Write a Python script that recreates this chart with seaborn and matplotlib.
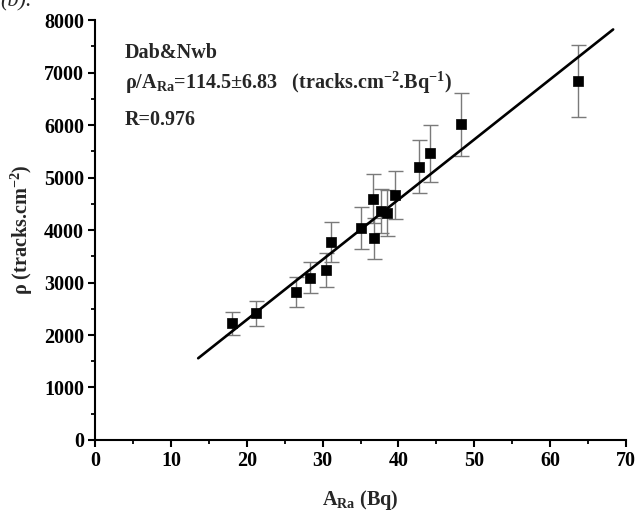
import matplotlib
matplotlib.use("Agg")
import matplotlib.pyplot as plt
import seaborn as sns
import numpy as np
import pandas as pd
from matplotlib.ticker import MultipleLocator

# Data
activity = [18.0, 21.2, 26.5, 28.3, 30.5, 31.1, 35.1, 36.7, 36.8, 37.7, 38.5, 39.6, 42.7, 44.2, 48.3, 63.7]
density = [2223, 2413, 2825, 3092, 3238, 3771, 4044, 4597, 3841, 4368, 4318, 4667, 5206, 5460, 6013, 6844]
density_err = [220, 240, 285, 300, 317, 375, 400, 470, 385, 420, 440, 460, 510, 540, 600, 686]
slope = 114.5
fit_x = [13.6, 68.3]

sns.set_style("ticks")
plt.rcParams['font.family'] = ['Liberation Serif', 'DejaVu Serif']
plt.rcParams['font.weight'] = 'bold'
plt.rcParams['mathtext.fontset'] = 'custom'
plt.rcParams['mathtext.rm'] = 'Liberation Serif:bold'
plt.rcParams['mathtext.it'] = 'Liberation Serif:bold'
plt.rcParams['mathtext.bf'] = 'Liberation Serif:bold'

df = pd.DataFrame({"A": activity, "rho": density, "err": density_err})
fit_df = pd.DataFrame({"A": fit_x, "rho": [slope * v for v in fit_x]})

fig = plt.figure(figsize=(6.39, 5.16), dpi=100)
ax = fig.add_axes([0.1487, 0.1473, 0.8310, 0.8139])

ax.errorbar(df["A"], df["rho"], yerr=df["err"], fmt='none', ecolor='#7a7a7a',
            elinewidth=1.0, capsize=5.4, capthick=1.0, zorder=2)
sns.lineplot(data=fit_df, x="A", y="rho", ax=ax, color='black', linewidth=1.9, zorder=3)
sns.scatterplot(data=df, x="A", y="rho", ax=ax, marker='s', s=42, color='black',
                edgecolor='black', linewidth=0.5, zorder=4)

FS = 14.5
ax.set_xlim(0, 70)
ax.set_ylim(0, 8000)
ax.xaxis.set_major_locator(MultipleLocator(10))
ax.xaxis.set_minor_locator(MultipleLocator(5))
ax.yaxis.set_major_locator(MultipleLocator(1000))
ax.yaxis.set_minor_locator(MultipleLocator(500))
ax.tick_params(axis='both', which='major', direction='out', length=5, width=1.5,
               labelsize=FS, color='black', labelcolor='black', pad=3)
ax.tick_params(axis='both', which='minor', direction='out', length=3, width=1.3, color='black')
for lab in ax.get_xticklabels() + ax.get_yticklabels():
    lab.set_fontweight('bold')

sns.despine(ax=ax)
for sp in ['left', 'bottom']:
    ax.spines[sp].set_linewidth(1.5)
    ax.spines[sp].set_color('black')

ax.set_xlabel('A$_{\\mathrm{Ra}}$ (Bq)', fontsize=FS, fontweight='bold', labelpad=12)
ax.set_ylabel('ρ (tracks.cm$^{\\mathrm{-2}}$)', fontsize=FS, fontweight='bold', labelpad=6)

ax.text(0.056, 0.921, 'Dab&Nwb', transform=ax.transAxes, fontsize=FS, fontweight='bold', va='center')
ax.text(0.056, 0.850, 'ρ/A$_{\\mathrm{Ra}}$=114.5±6.83   (tracks.cm$^{\\mathrm{-2}}$.Bq$^{\\mathrm{-1}}$)',
        transform=ax.transAxes, fontsize=FS, fontweight='bold', va='center')
ax.text(0.056, 0.762, 'R=0.976', transform=ax.transAxes, fontsize=FS, fontweight='bold', va='center')

fig.text(0.0, 0.997, '(b).', fontsize=16, fontweight='normal', fontstyle='italic', va='center', ha='left')

fig.savefig('out.png', dpi=100)
